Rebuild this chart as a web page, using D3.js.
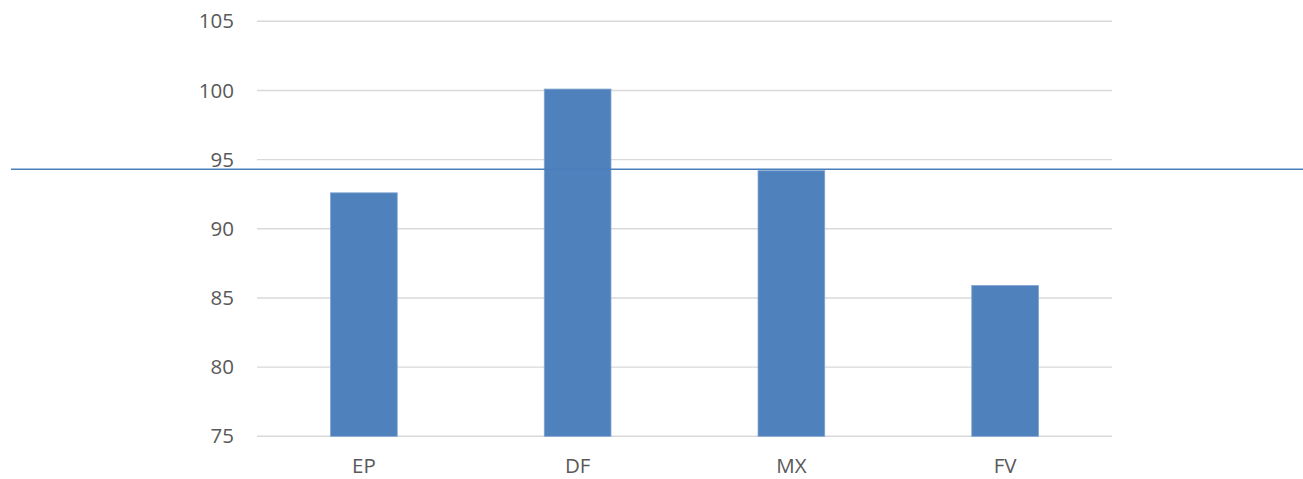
<!DOCTYPE html>
<html>
<head>
<meta charset="utf-8">
<script src="https://cdn.jsdelivr.net/npm/d3@7"></script>
<style>
  body { margin: 0; background: #fff; }
  svg { display: block; }
  text { font-family: "Open Sans", sans-serif; fill: #595959; }
</style>
</head>
<body>
<svg id="chart"></svg>
<script>
const width = 1303
const height = 479

// data
const categories = ["EP", "DF", "MX", "FV"]
const values = [92.6, 100.1, 94.2, 85.9]
const yTicks = [75, 80, 85, 90, 95, 100, 105]
const refValue = 94.3

const margin = { top: 21.3, right: 191, bottom: 42.7, left: 257 }

const svg = d3.select("#chart")
  .attr("width", width)
  .attr("height", height)

const x = d3.scaleBand()
  .domain(categories)
  .range([margin.left, width - margin.right])
  .paddingInner(0.688)
  .paddingOuter(0.344)

const y = d3.scaleLinear()
  .domain([75, 105])
  .range([height - margin.bottom, margin.top])

// gridlines
svg.append("g")
  .selectAll("line")
  .data(yTicks)
  .enter().append("line")
    .attr("x1", margin.left)
    .attr("x2", width - margin.right)
    .attr("y1", d => y(d))
    .attr("y2", d => y(d))
    .attr("stroke", "#d9d9d9")
    .attr("stroke-width", 1.4)

// y axis labels
const yAxis = d3.axisLeft(y).tickValues(yTicks).tickSize(0).tickPadding(23)
svg.append("g")
  .attr("transform", `translate(${margin.left},0)`)
  .call(yAxis)
  .call(g => g.select(".domain").remove())
  .selectAll("text")
    .style("font-size", "20.5px")
    .attr("fill", "#595959")

// bars
svg.append("g")
  .selectAll("rect")
  .data(values)
  .enter().append("rect")
    .attr("x", (d, i) => x(categories[i]))
    .attr("y", d => y(d))
    .attr("width", x.bandwidth())
    .attr("height", d => y(75) - y(d))
    .attr("fill", "#4f81bd")
    .attr("stroke", "#7fa3d0")
    .attr("stroke-width", 0.8)

// category labels
const xAxis = d3.axisBottom(x).tickSize(0).tickPadding(22)
svg.append("g")
  .attr("transform", `translate(0,${y(75)})`)
  .call(xAxis)
  .call(g => g.select(".domain").remove())
  .selectAll("text")
    .style("font-size", "20.5px")
    .attr("fill", "#595959")

// horizontal reference line
svg.append("line")
  .attr("x1", 11)
  .attr("x2", width)
  .attr("y1", y(refValue))
  .attr("y2", y(refValue))
  .attr("stroke", "#4a7ebb")
  .attr("stroke-width", 1.6)
</script>
</body>
</html>
